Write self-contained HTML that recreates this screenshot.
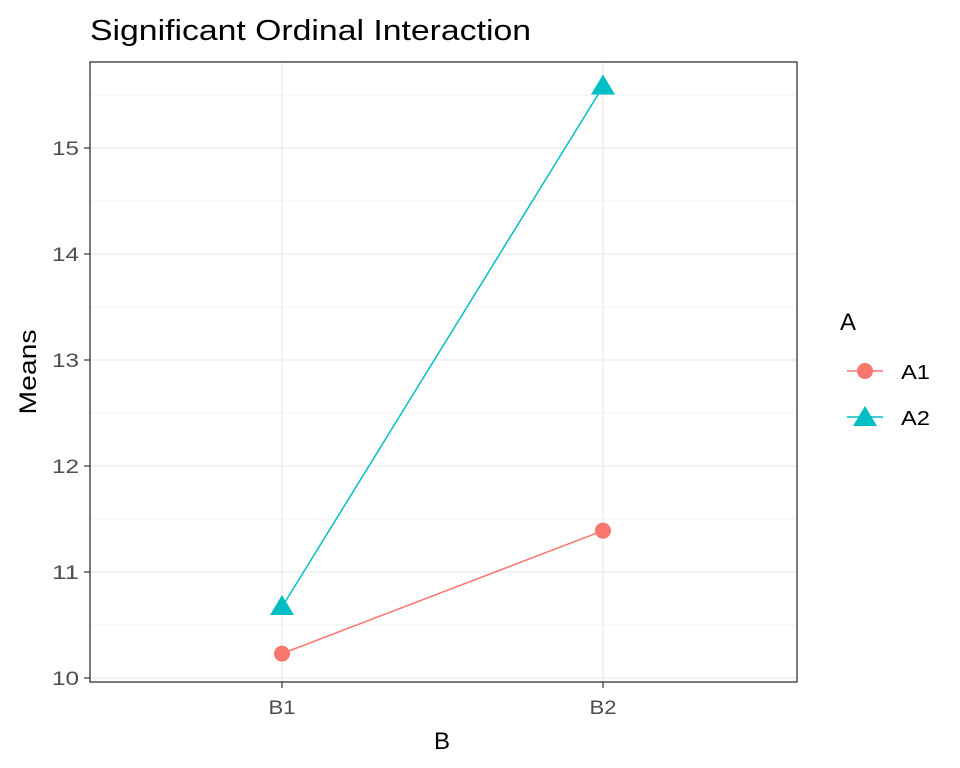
<!DOCTYPE html>
<html><head><meta charset="utf-8"><style>
body{margin:0;background:#fff;}
svg{display:block;font-family:"Liberation Sans",Arial,sans-serif;}
</style></head><body>
<svg id="chart" width="960" height="768">
<text x="90" y="40" font-size="29" textLength="441" lengthAdjust="spacingAndGlyphs" fill="#000">Significant Ordinal Interaction</text>
<g id="grid"></g>
<g id="series"></g>
<rect x="90" y="62" width="707" height="620" fill="none" stroke="#333" stroke-width="1.3"/>
<g id="axes"></g>
<text x="442" y="749" font-size="24" text-anchor="middle">B</text>
<text transform="translate(36,372) rotate(-90)" font-size="24" textLength="85" lengthAdjust="spacingAndGlyphs" text-anchor="middle">Means</text>
<g>
<text x="840" y="330" font-size="24">A</text>
<g>
<line x1="847" y1="371" x2="883" y2="371" stroke="#F8766D" stroke-width="1.5"/>
<circle cx="865" cy="371" r="8" fill="#F8766D"/>
<text x="901" y="379" font-size="20" textLength="29" lengthAdjust="spacingAndGlyphs">A1</text></g>
<g>
<line x1="847" y1="417" x2="883" y2="417" stroke="#00BFC4" stroke-width="1.5"/>
<polygon points="865,406 877,426 853,426" fill="#00BFC4"/>
<text x="901" y="425" font-size="20" textLength="29" lengthAdjust="spacingAndGlyphs">A2</text></g>
</g>
</svg>
<script>
const categories=["B1","B2"];
const seriesA1=[10.23,11.39];
const seriesA2=[10.67,15.58];
const yTicks=[10,11,12,13,14,15];
const NS="http://www.w3.org/2000/svg";
function xs(i){return 282+i*321;}
function ys(v){return 678-(v-10)*106;}
function mk(t,a,p){const e=document.createElementNS(NS,t);for(const k in a)e.setAttribute(k,a[k]);p.appendChild(e);return e;}
const grid=document.getElementById('grid'),axes=document.getElementById('axes'),ser=document.getElementById('series');
for(let v=9.5;v<=16;v+=0.5){const y=ys(v);if(y<62||y>682)continue;
 const l=mk('line',{x1:90,x2:797,y1:y,y2:y,stroke:'#ebebeb','stroke-width':Number.isInteger(v)?1.3:0.7},grid);
 
 }
categories.forEach((c,i)=>{const x=xs(i);
 const l=mk('line',{x1:x,x2:x,y1:62,y2:682,stroke:'#ebebeb','stroke-width':1.3},grid);
 
 
 mk('line',{x1:x,x2:x,y1:682,y2:688,stroke:'#333','stroke-width':1.2},axes);
 const t=mk('text',{x:x,y:714,'font-size':19,'text-anchor':'middle',fill:'#4d4d4d',textLength:27,lengthAdjust:'spacingAndGlyphs'},axes);t.textContent=c;
 
 });
yTicks.forEach(v=>{const y=ys(v);
 mk('line',{x1:84,x2:90,y1:y,y2:y,stroke:'#333','stroke-width':1.2},axes);
 const t=mk('text',{x:79,y:y+7,'font-size':19,'text-anchor':'end',fill:'#4d4d4d',textLength:27,lengthAdjust:'spacingAndGlyphs'},axes);t.textContent=v;
 
 });
function draw(vals,color,shape,name){
 const pl=mk('polyline',{points:vals.map((v,i)=>xs(i)+','+ys(v)).join(' '),fill:'none',stroke:color,'stroke-width':1.5},ser);
 
 
 vals.forEach((v,i)=>{const x=xs(i),y=ys(v);let p;
  if(shape==='c')p=mk('circle',{cx:x,cy:y,r:8,fill:color},ser);
  else p=mk('polygon',{points:`${x},${y-12} ${x+12},${y+8} ${x-12},${y+8}`,fill:color},ser);
  
  });
}
draw(seriesA1,'#F8766D','c','a1');
draw(seriesA2,'#00BFC4','t','a2');
</script>
</body></html>
